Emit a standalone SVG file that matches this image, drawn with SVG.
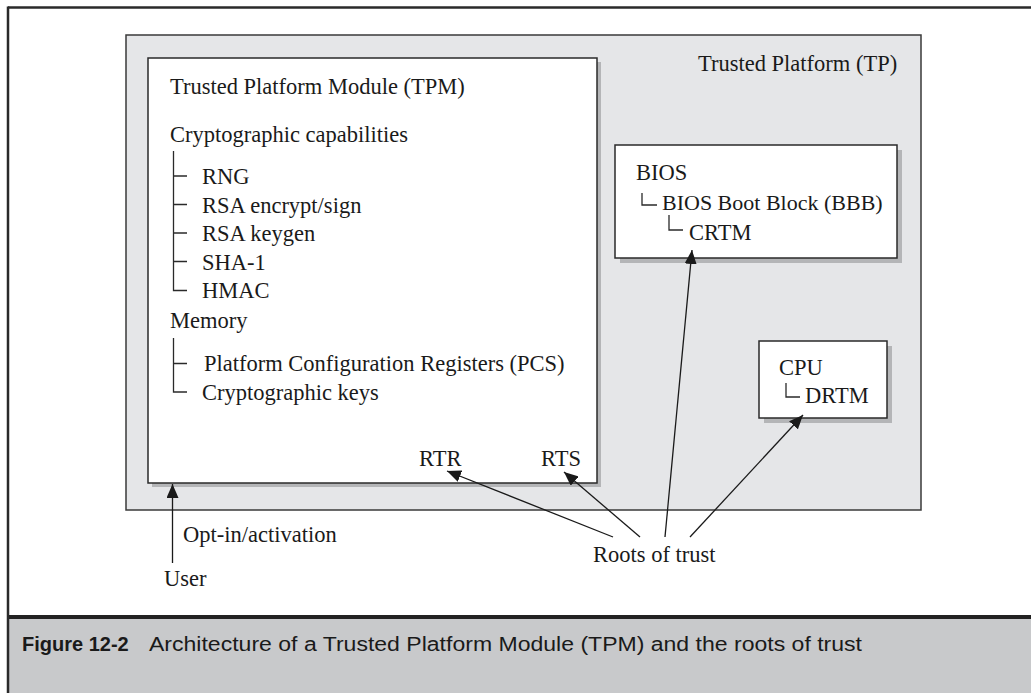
<svg xmlns="http://www.w3.org/2000/svg" width="1031" height="693" viewBox="0 0 1031 693">
<style>
.t{font-family:"Liberation Serif","Times New Roman",serif;font-size:22.5px;fill:#1a1a1a}
.bb{font-size:22px}
.box{fill:#ffffff;stroke:#2a2a2a;stroke-width:1.5}
.sh{fill:#b4b5b7}
.tr{stroke:#2a2a2a;stroke-width:1.3;fill:none}
.con{stroke:#1a1a1a;stroke-width:1.3;fill:none;marker-end:url(#ah)}
.cap{font-family:"Liberation Sans",Arial,sans-serif;font-size:20px;fill:#1a1a1a}
</style>
<defs>
<marker id="ah" viewBox="0 0 14 12" refX="14" refY="6" markerWidth="14" markerHeight="12" orient="auto" markerUnits="userSpaceOnUse">
<path d="M0,0 L14,6 L0,12 z" fill="#1a1a1a"/>
</marker>
</defs>
<rect x="0" y="0" width="1031" height="693" fill="#ffffff"/>
<!-- caption band -->
<rect x="8" y="617" width="1023" height="76" fill="#c8c9cb"/>
<line x1="8" y1="617" x2="1031" y2="617" stroke="#222" stroke-width="4"/>
<!-- outer frame -->
<line x1="8" y1="7.5" x2="1031" y2="7.5" stroke="#2a2a2a" stroke-width="2.5"/>
<line x1="8" y1="6.5" x2="8" y2="693" stroke="#2a2a2a" stroke-width="2.5"/>

<g id="tp">
<rect x="126" y="35" width="795" height="475" fill="#e5e6e8" stroke="#3a3a3a" stroke-width="1.5"/>
<text class="t" x="698" y="71">Trusted Platform (TP)</text>
</g>

<g id="tpm">
<rect class="sh" x="152" y="62" width="449" height="425"/>
<rect class="box" x="148" y="58" width="449" height="425"/>
<text class="t" x="170" y="94">Trusted Platform Module (TPM)</text>
<text class="t" x="170" y="142">Cryptographic capabilities</text>
<path class="tr" d="M173.5,151 V290.5 H187 M173.5,176 H187 M173.5,204.5 H187 M173.5,233 H187 M173.5,261.5 H187"/>
<text class="t" x="202" y="184">RNG</text>
<text class="t" x="202" y="212.5">RSA encrypt/sign</text>
<text class="t" x="202" y="241">RSA keygen</text>
<text class="t" x="202" y="269.5">SHA-1</text>
<text class="t" x="202" y="298">HMAC</text>
<text class="t" x="170" y="328">Memory</text>
<path class="tr" d="M173.5,338 V392 H187 M173.5,363.5 H187"/>
<text class="t" x="204" y="371">Platform Configuration Registers (PCS)</text>
<text class="t" x="202" y="399.5">Cryptographic keys</text>
<text class="t" x="419" y="466">RTR</text>
<text class="t" x="541" y="466">RTS</text>
</g>

<g id="bios">
<rect class="sh" x="620" y="150" width="282" height="113"/>
<rect class="box" x="615" y="145" width="282" height="113"/>
<text class="t" x="636" y="180">BIOS</text>
<path class="tr" d="M642,193 V205 H657"/>
<text class="t bb" x="662" y="210">BIOS Boot Block (BBB)</text>
<path class="tr" d="M669,215 V230 H683"/>
<text class="t" x="689" y="240">CRTM</text>
</g>

<g id="cpu">
<rect class="sh" x="764" y="346" width="128" height="77"/>
<rect class="box" x="759" y="341" width="128" height="77"/>
<text class="t" x="779" y="375">CPU</text>
<path class="tr" d="M786,383 V397 H800"/>
<text class="t" x="805" y="403">DRTM</text>
</g>

<g id="user">
<text class="t" x="183" y="542">Opt-in/activation</text>
<text class="t" x="164" y="586">User</text>
</g>

<g id="roots">
<text class="t" x="593" y="562">Roots of trust</text>
</g>

<g id="connectors">
<line class="con" x1="172.5" y1="563" x2="172.5" y2="484"/>
<line class="con" x1="613" y1="537" x2="447" y2="471"/>
<line class="con" x1="640" y1="537" x2="564" y2="472"/>
<line class="con" x1="665" y1="537" x2="692" y2="250"/>
<line class="con" x1="690" y1="537" x2="803" y2="415"/>
</g>

<g id="caption">
<text class="cap" x="22" y="651" font-weight="bold">Figure 12-2</text>
<text class="cap" x="149" y="651" textLength="713" lengthAdjust="spacingAndGlyphs">Architecture of a Trusted Platform Module (TPM) and the roots of trust</text>
</g>
</svg>
